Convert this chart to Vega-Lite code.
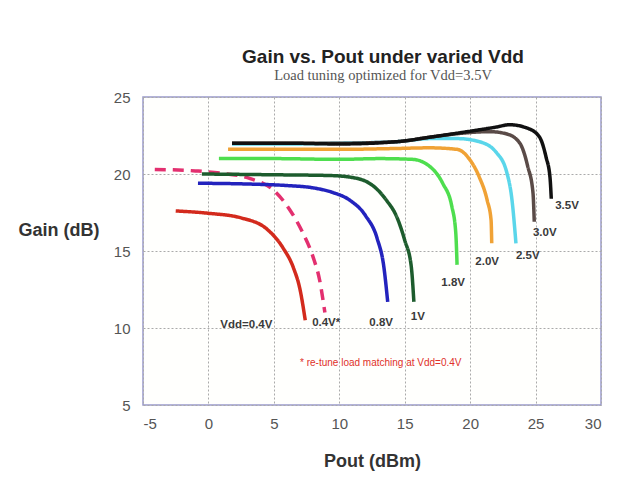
{
  "$schema": "https://vega.github.io/schema/vega-lite/v6.json",
  "width": 458,
  "height": 308,
  "autosize": {"type": "none"},
  "padding": {"left": 143, "top": 97, "right": 20, "bottom": 99},
  "background": "white",
  "title": {
    "text": "Gain vs. Pout under varied Vdd",
    "subtitle": "Load tuning optimized for Vdd=3.5V",
    "anchor": "middle",
    "dx": 11,
    "offset": 8,
    "font": "Liberation Sans",
    "fontSize": 19,
    "fontWeight": "bold",
    "color": "#222",
    "subtitleFont": "Liberation Serif",
    "subtitleFontSize": 14.5,
    "subtitleColor": "#555",
    "subtitlePadding": 2
  },
  "datasets": {
    "curves": [
      {"s": "0.4V", "pout": -2.5, "gain": 17.6},
      {"s": "0.4V", "pout": 0, "gain": 17.45},
      {"s": "0.4V", "pout": 2.5, "gain": 17.15},
      {"s": "0.4V", "pout": 4.5, "gain": 16.4},
      {"s": "0.4V", "pout": 5.7, "gain": 15.2},
      {"s": "0.4V", "pout": 6.5, "gain": 13.9},
      {"s": "0.4V", "pout": 7.0, "gain": 12.5},
      {"s": "0.4V", "pout": 7.4, "gain": 10.5},
      {"s": "0.4V*", "pout": -4.1, "gain": 20.3},
      {"s": "0.4V*", "pout": -1, "gain": 20.2},
      {"s": "0.4V*", "pout": 1, "gain": 20.05},
      {"s": "0.4V*", "pout": 3.2, "gain": 19.7},
      {"s": "0.4V*", "pout": 4.9, "gain": 19.0},
      {"s": "0.4V*", "pout": 6.2, "gain": 17.7},
      {"s": "0.4V*", "pout": 7.2, "gain": 16.2},
      {"s": "0.4V*", "pout": 8.0, "gain": 14.6},
      {"s": "0.4V*", "pout": 8.5, "gain": 13.1},
      {"s": "0.4V*", "pout": 8.9, "gain": 11.0},
      {"s": "0.8V", "pout": -0.8, "gain": 19.4},
      {"s": "0.8V", "pout": 3, "gain": 19.35},
      {"s": "0.8V", "pout": 6, "gain": 19.25},
      {"s": "0.8V", "pout": 8, "gain": 19.1},
      {"s": "0.8V", "pout": 9.5, "gain": 18.8},
      {"s": "0.8V", "pout": 10.8, "gain": 18.3},
      {"s": "0.8V", "pout": 12.0, "gain": 17.3},
      {"s": "0.8V", "pout": 12.9, "gain": 15.8},
      {"s": "0.8V", "pout": 13.4, "gain": 14.0},
      {"s": "0.8V", "pout": 13.7, "gain": 11.7},
      {"s": "1V", "pout": -0.5, "gain": 20.0},
      {"s": "1V", "pout": 5, "gain": 19.95},
      {"s": "1V", "pout": 9.3, "gain": 19.9},
      {"s": "1V", "pout": 10.8, "gain": 19.8},
      {"s": "1V", "pout": 12.3, "gain": 19.4},
      {"s": "1V", "pout": 13.6, "gain": 18.3},
      {"s": "1V", "pout": 14.4, "gain": 17.2},
      {"s": "1V", "pout": 15.0, "gain": 15.7},
      {"s": "1V", "pout": 15.5, "gain": 14.0},
      {"s": "1V", "pout": 15.7, "gain": 11.7},
      {"s": "1.8V", "pout": 0.8, "gain": 21.0},
      {"s": "1.8V", "pout": 5, "gain": 21.0},
      {"s": "1.8V", "pout": 10, "gain": 20.95},
      {"s": "1.8V", "pout": 13.1, "gain": 21.0},
      {"s": "1.8V", "pout": 15.6, "gain": 20.95},
      {"s": "1.8V", "pout": 16.9, "gain": 20.5},
      {"s": "1.8V", "pout": 17.9, "gain": 19.4},
      {"s": "1.8V", "pout": 18.6, "gain": 17.9},
      {"s": "1.8V", "pout": 18.9, "gain": 16.2},
      {"s": "1.8V", "pout": 19.0, "gain": 14.1},
      {"s": "2.0V", "pout": 1.5, "gain": 21.6},
      {"s": "2.0V", "pout": 6, "gain": 21.6},
      {"s": "2.0V", "pout": 10, "gain": 21.6},
      {"s": "2.0V", "pout": 14, "gain": 21.65},
      {"s": "2.0V", "pout": 16.9, "gain": 21.7},
      {"s": "2.0V", "pout": 19.0, "gain": 21.6},
      {"s": "2.0V", "pout": 20.0, "gain": 20.9},
      {"s": "2.0V", "pout": 20.7, "gain": 19.8},
      {"s": "2.0V", "pout": 21.3, "gain": 18.3},
      {"s": "2.0V", "pout": 21.6, "gain": 17.0},
      {"s": "2.0V", "pout": 21.65, "gain": 15.5},
      {"s": "2.5V", "pout": 1.8, "gain": 21.95},
      {"s": "2.5V", "pout": 6, "gain": 21.95},
      {"s": "2.5V", "pout": 10, "gain": 22.0},
      {"s": "2.5V", "pout": 14.4, "gain": 22.1},
      {"s": "2.5V", "pout": 17, "gain": 22.3},
      {"s": "2.5V", "pout": 19.0, "gain": 22.3},
      {"s": "2.5V", "pout": 20.7, "gain": 22.1},
      {"s": "2.5V", "pout": 22.0, "gain": 21.4},
      {"s": "2.5V", "pout": 22.8, "gain": 20.1},
      {"s": "2.5V", "pout": 23.2, "gain": 18.3},
      {"s": "2.5V", "pout": 23.5, "gain": 15.5},
      {"s": "3.0V", "pout": 1.8, "gain": 22.0},
      {"s": "3.0V", "pout": 6, "gain": 22.0},
      {"s": "3.0V", "pout": 10, "gain": 22.0},
      {"s": "3.0V", "pout": 14.4, "gain": 22.1},
      {"s": "3.0V", "pout": 17, "gain": 22.4},
      {"s": "3.0V", "pout": 19.4, "gain": 22.65},
      {"s": "3.0V", "pout": 21.5, "gain": 22.75},
      {"s": "3.0V", "pout": 22.8, "gain": 22.6},
      {"s": "3.0V", "pout": 23.8, "gain": 22.0},
      {"s": "3.0V", "pout": 24.4, "gain": 20.5},
      {"s": "3.0V", "pout": 24.8, "gain": 18.8},
      {"s": "3.0V", "pout": 24.9, "gain": 16.9},
      {"s": "3.5V", "pout": 1.8, "gain": 22.0},
      {"s": "3.5V", "pout": 6, "gain": 22.0},
      {"s": "3.5V", "pout": 10, "gain": 21.95},
      {"s": "3.5V", "pout": 14.4, "gain": 22.1},
      {"s": "3.5V", "pout": 17, "gain": 22.4},
      {"s": "3.5V", "pout": 19.4, "gain": 22.7},
      {"s": "3.5V", "pout": 22.0, "gain": 23.05},
      {"s": "3.5V", "pout": 23.0, "gain": 23.2},
      {"s": "3.5V", "pout": 24.3, "gain": 23.0},
      {"s": "3.5V", "pout": 25.3, "gain": 22.4},
      {"s": "3.5V", "pout": 25.8, "gain": 21.1},
      {"s": "3.5V", "pout": 26.1, "gain": 19.8},
      {"s": "3.5V", "pout": 26.2, "gain": 18.4}
    ],
    "labels": [
      {"label": "Vdd=0.4V", "pout": 2.9, "gain": 10.2},
      {"label": "0.4V*", "pout": 9.0, "gain": 10.3},
      {"label": "0.8V", "pout": 13.2, "gain": 10.3},
      {"label": "1V", "pout": 16.0, "gain": 10.7},
      {"label": "1.8V", "pout": 18.7, "gain": 12.9},
      {"label": "2.0V", "pout": 21.3, "gain": 14.3},
      {"label": "2.5V", "pout": 24.4, "gain": 14.7},
      {"label": "3.0V", "pout": 25.7, "gain": 16.2},
      {"label": "3.5V", "pout": 27.4, "gain": 17.9}
    ],
    "notes": [
      {"label": "* re-tune load matching at Vdd=0.4V", "pout": 7.0, "gain": 7.7}
    ]
  },
  "config": {
    "view": {"stroke": "#9a9acb", "strokeWidth": 1.5, "fill": "#fffffd"},
    "axis": {
      "labelFont": "Liberation Sans",
      "labelFontSize": 15,
      "labelColor": "#555",
      "titleFont": "Liberation Sans",
      "titleFontSize": 18,
      "titleFontWeight": "bold",
      "titleColor": "#333",
      "domain": false,
      "grid": true,
      "gridColor": "#aaaaaa",
      "gridDash": [2, 2],
      "gridWidth": 1,
      "ticks": false
    }
  },
  "layer": [
    {
      "data": {"name": "curves"},
      "mark": {"type": "line", "interpolate": "monotone", "strokeWidth": 3.5, "strokeCap": "butt"},
      "encoding": {
        "x": {
          "field": "pout", "type": "quantitative",
          "scale": {"domain": [-5, 30], "nice": false, "zero": false},
          "axis": {"title": "Pout (dBm)", "values": [-5, 0, 5, 10, 15, 20, 25, 30], "labelPadding": 11, "titlePadding": 21,
                   "labelExpr": "datum.value < 0 ? '-' + abs(datum.value) : datum.label"}
        },
        "y": {
          "field": "gain", "type": "quantitative",
          "scale": {"domain": [5, 25], "nice": false, "zero": false},
          "axis": {"title": "Gain (dB)", "values": [5, 10, 15, 20, 25], "labelPadding": 13,
                   "titleAngle": 0, "titleAlign": "left", "titleBaseline": "middle", "titleX": -125, "titleY": 133}
        },
        "detail": {"field": "s"},
        "color": {
          "field": "s", "type": "nominal", "legend": null,
          "scale": {
            "domain": ["0.4V", "0.4V*", "0.8V", "1V", "1.8V", "2.0V", "2.5V", "3.0V", "3.5V"],
            "range": ["#d32a1c", "#e3306f", "#2323bd", "#1d5c2d", "#4ede4e", "#f0a235", "#5ad6ea", "#5a4b47", "#111111"]
          }
        },
        "strokeDash": {
          "field": "s", "type": "nominal", "legend": null,
          "scale": {
            "domain": ["0.4V", "0.4V*", "0.8V", "1V", "1.8V", "2.0V", "2.5V", "3.0V", "3.5V"],
            "range": [[1, 0], [11, 7], [1, 0], [1, 0], [1, 0], [1, 0], [1, 0], [1, 0], [1, 0]]
          }
        }
      }
    },
    {
      "data": {"name": "labels"},
      "mark": {"type": "text", "font": "Liberation Sans", "fontSize": 11.5, "fontWeight": "bold", "color": "#3a3a3a"},
      "encoding": {
        "x": {"field": "pout", "type": "quantitative"},
        "y": {"field": "gain", "type": "quantitative"},
        "text": {"field": "label"}
      }
    },
    {
      "data": {"name": "notes"},
      "mark": {"type": "text", "font": "Liberation Sans", "fontSize": 10, "align": "left", "color": "#e0302a"},
      "encoding": {
        "x": {"field": "pout", "type": "quantitative"},
        "y": {"field": "gain", "type": "quantitative"},
        "text": {"field": "label"}
      }
    }
  ]
}
